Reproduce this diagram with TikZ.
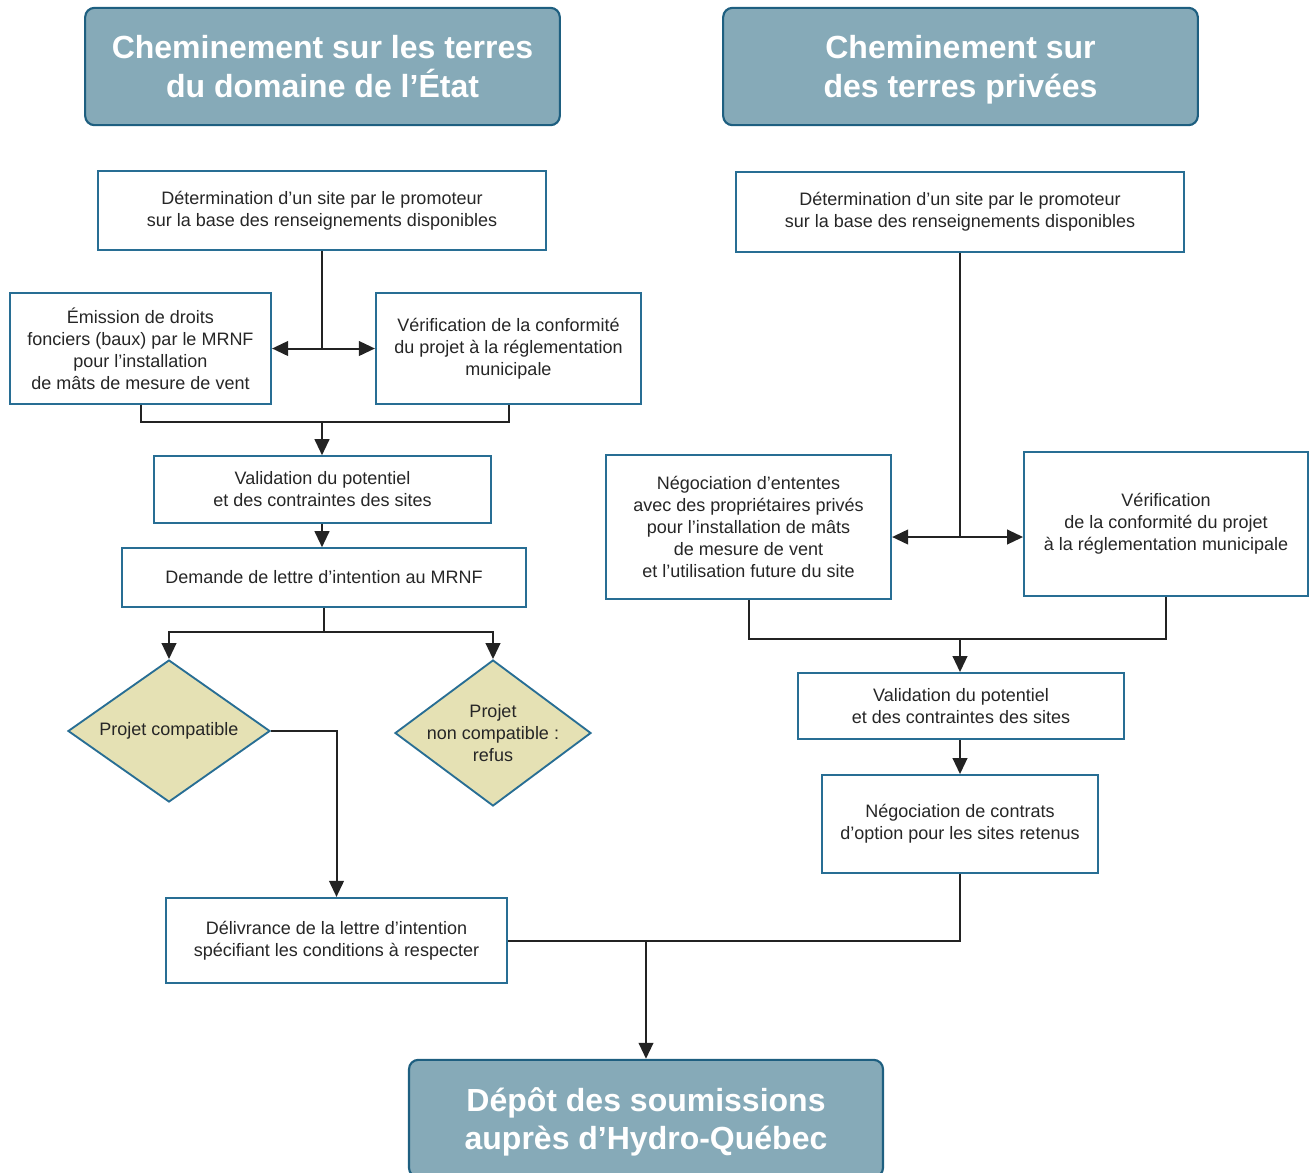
\documentclass[tikz,border=0pt]{standalone}
\usepackage{fontspec}
\setmainfont{Liberation Sans}
\usetikzlibrary{shapes.geometric,arrows.meta}

\definecolor{hdfill}{RGB}{134,170,184}
\definecolor{hdline}{RGB}{30,95,128}
\definecolor{boxline}{RGB}{40,110,148}
\definecolor{diafill}{RGB}{229,225,180}
\definecolor{conncol}{RGB}{35,35,35}

\tikzset{
  hdbox/.style={draw=hdline, fill=hdfill, line width=1.6pt, rounded corners=7pt,
    text=white, align=center, inner sep=0pt, text depth=0pt,
    font=\fontsize{24}{29}\selectfont\bfseries},
  stepbox/.style={draw=boxline, fill=white, line width=1.4pt, align=center,
    inner sep=0pt, font=\fontsize{13.5}{16.5}\selectfont, text=black!85},
  decision/.style={diamond, draw=boxline, fill=diafill, line width=1.4pt,
    inner sep=0pt},
  dectext/.style={align=center, inner sep=0pt,
    font=\fontsize{13.5}{16.5}\selectfont, text=black!85},
  conn/.style={draw=conncol, line width=1.5pt},
  arr/.style={conn, -{Triangle[length=12pt,width=11pt]}},
  darr/.style={conn, {Triangle[length=12pt,width=11pt]}-{Triangle[length=12pt,width=11pt]}}
}

\begin{document}
\begin{tikzpicture}[x=0.75pt,y=-0.75pt]
  \useasboundingbox (0,0) rectangle (1310,1172);

  % headers
  \node [hdbox, minimum width=356pt, minimum height=88pt] (hdl) at (322.5,66.5)
    {Cheminement sur les terres\\du domaine de l’État};
  \node [hdbox, minimum width=356pt, minimum height=88pt] (hdr) at (960.5,66.5)
    {Cheminement sur\\des terres privées};

  % left column
  \node [stepbox, minimum width=336pt, minimum height=59pt] (detl) at (322,210.5)
    {Détermination d’un site par le promoteur\\sur la base des renseignements disponibles};
  \node [stepbox, minimum width=196pt, minimum height=83pt] (emis) at (140.5,348.5)
    {Émission de droits\\fonciers (baux) par le MRNF\\pour l’installation\\de mâts de mesure de vent};
  \node [stepbox, minimum width=199pt, minimum height=83pt] (verl) at (508.5,348.5)
    {Vérification de la conformité\\du projet à la réglementation\\municipale};
  \node [stepbox, minimum width=253pt, minimum height=50pt] (vall) at (322.5,489.5)
    {Validation du potentiel\\et des contraintes des sites};
  \node [stepbox, minimum width=303pt, minimum height=44pt] (dem) at (324,577.5)
    {Demande de lettre d’intention au MRNF};
  \node [decision, minimum width=151.5pt, minimum height=106.5pt,
    label={[dectext]center:Projet compatible}] (comp) at (169,731) {};
  \node [decision, minimum width=147pt, minimum height=109.5pt,
    label={[dectext]center:Projet\\non compatible :\\refus}] (ncomp) at (493,733) {};
  \node [stepbox, minimum width=256pt, minimum height=64pt] (deliv) at (336.5,940.5)
    {Délivrance de la lettre d’intention\\spécifiant les conditions à respecter};

  % right column
  \node [stepbox, minimum width=336pt, minimum height=60pt] (detr) at (960,212)
    {Détermination d’un site par le promoteur\\sur la base des renseignements disponibles};
  \node [stepbox, minimum width=214pt, minimum height=108pt] (nego) at (748.5,527)
    {Négociation d’ententes\\avec des propriétaires privés\\pour l’installation de mâts\\de mesure de vent\\et l’utilisation future du site};
  \node [stepbox, minimum width=213pt, minimum height=108pt] (verr) at (1166,524)
    {Vérification\\de la conformité du projet\\à la réglementation municipale};
  \node [stepbox, minimum width=245pt, minimum height=49.5pt] (valr) at (961,706)
    {Validation du potentiel\\et des contraintes des sites};
  \node [stepbox, minimum width=207pt, minimum height=73.5pt] (negc) at (960,824)
    {Négociation de contrats\\d’option pour les sites retenus};

  % final
  \node [hdbox, minimum width=355.5pt, minimum height=88pt] (depot) at (646,1118.5)
    {Dépôt des soumissions\\auprès d’Hydro-Québec};

  % junctions
  \coordinate (jl) at (322,422);
  \coordinate (jd) at (324,632);
  \coordinate (ar) at (960,537);
  \coordinate (jr) at (960,639);

  % left connectors
  \draw [conn] (detl.south) -- (detl.south |- emis.east);
  \draw [darr] (emis.east) -- (verl.west);
  \draw [conn] (emis.south) |- (jl) -| (verl.south);
  \draw [arr] (jl) -- (jl |- vall.north);
  \draw [arr] (jl |- vall.south) -- (jl |- dem.north);
  \draw [conn] (dem.south) -- (jd);
  \draw [arr] (jd) -| (comp.north);
  \draw [arr] (jd) -| (ncomp.north);
  \draw [arr] (comp.east) -| (deliv.north);

  % right connectors
  \draw [conn] (detr.south) -- (ar);
  \draw [darr] (nego.east |- ar) -- (verr.west |- ar);
  \draw [conn] (nego.south) |- (jr) -| (verr.south);
  \draw [arr] (jr) -- (jr |- valr.north);
  \draw [arr] (jr |- valr.south) -- (jr |- negc.north);

  % to final
  \draw [conn] (negc.south) |- (deliv.east);
  \draw [arr] (depot.north |- deliv.east) -- (depot.north);
\end{tikzpicture}
\end{document}
